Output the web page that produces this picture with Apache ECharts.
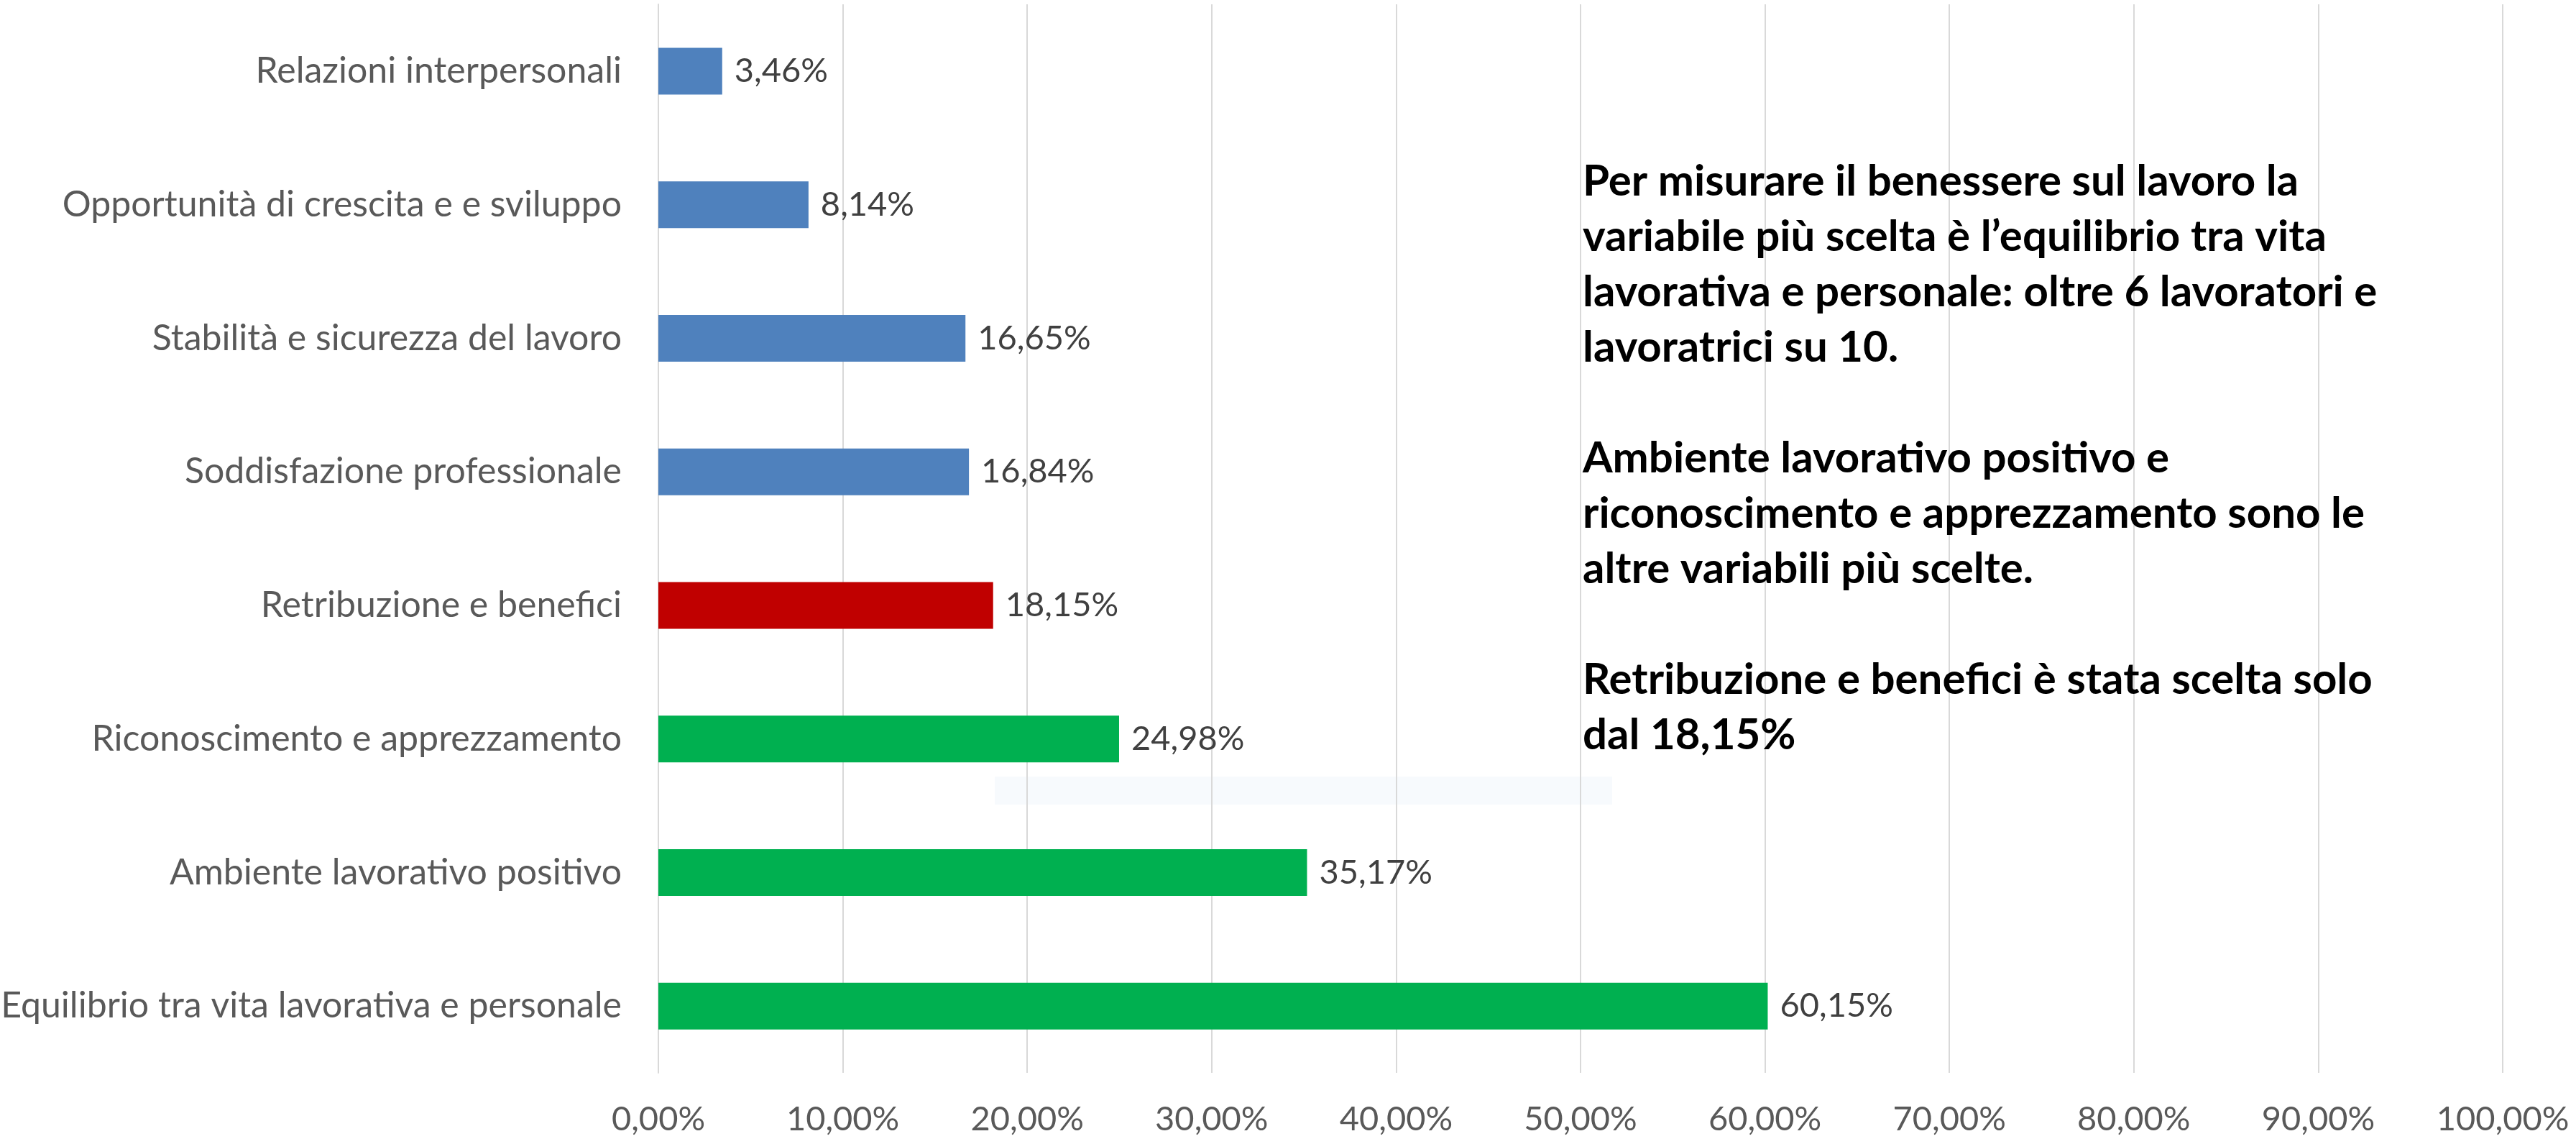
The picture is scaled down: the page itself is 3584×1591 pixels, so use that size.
<!DOCTYPE html>
<html>
<head>
<meta charset="utf-8">
<title>Benessere sul lavoro</title>
<script src="https://cdn.jsdelivr.net/npm/echarts@6/dist/echarts.min.js"></script>
<style>
  html, body { margin: 0; padding: 0; background: #fff; }
  #barchart { width: 3584px; height: 1591px; }
</style>
</head>
<body>
<div id="barchart"></div>
<script>
// dati (dall'alto verso il basso)
const categories = [
  'Relazioni interpersonali',
  'Opportunità di crescita e e sviluppo',
  'Stabilità e sicurezza del lavoro',
  'Soddisfazione professionale',
  'Retribuzione e benefici',
  'Riconoscimento e apprezzamento',
  'Ambiente lavorativo positivo',
  'Equilibrio tra vita lavorativa e personale'
]
const values = [3.46, 8.14, 16.65, 16.84, 18.15, 24.98, 35.17, 60.15]
const barColors = ['#4F81BD', '#4F81BD', '#4F81BD', '#4F81BD', '#C00000', '#00B050', '#00B050', '#00B050']
const tickValues = [0, 10, 20, 30, 40, 50, 60, 70, 80, 90, 100]

const note = [
  'Per misurare il benessere sul lavoro la',
  'variabile più scelta è l’equilibrio tra vita',
  'lavorativa e personale: oltre 6 lavoratori e',
  'lavoratrici su 10.',
  '',
  'Ambiente lavorativo positivo e',
  'riconoscimento e apprezzamento sono le',
  'altre variabili più scelte.',
  '',
  'Retribuzione e benefici è stata scelta solo',
  'dal 18,15%'
]

const pct = v => v.toFixed(2).replace('.', ',') + '%'
const font = 'Lato, "Open Sans", sans-serif'

const chart = echarts.init(document.getElementById('barchart'))
chart.setOption({
  backgroundColor: '#ffffff',
  animation: false,
  grid: {
    left: 916,
    right: 102,
    top: 6,
    bottom: 99,
    containLabel: false,
    outerBoundsMode: 'none'
  },
  xAxis: {
    type: 'value',
    min: tickValues[0],
    max: tickValues[tickValues.length - 1],
    interval: 10,
    axisLine: { show: false },
    axisTick: { show: false },
    splitLine: { lineStyle: { color: '#D9D9D9', width: 2 } },
    axisLabel: {
      margin: 41,
      fontSize: 47,
      fontFamily: font,
      color: '#595959',
      formatter: v => pct(v)
    }
  },
  yAxis: {
    type: 'category',
    inverse: true,
    data: categories,
    axisLine: { show: true, lineStyle: { color: '#D9D9D9', width: 2 } },
    axisTick: { show: false },
    axisLabel: {
      margin: 51,
      fontSize: 50,
      fontFamily: font,
      color: '#595959'
    }
  },
  graphic: [
    {
      type: 'rect',
      shape: { x: 1384, y: 1080, width: 859, height: 39 },
      style: { fill: '#F7FAFD' },
      z: 0
    },
    {
      type: 'text',
      left: 2202,
      top: 214,
      z: 10,
      style: {
        text: note.join('\n'),
        fontSize: 60,
        fontWeight: 'bold',
        fontFamily: font,
        fill: '#000000',
        lineHeight: 77
      }
    }
  ],
  series: [
    {
      type: 'bar',
      barWidth: 65,
      data: values.map((v, i) => ({ value: v, itemStyle: { color: barColors[i] } })),
      label: {
        show: true,
        position: 'right',
        distance: 17,
        fontSize: 47,
        fontFamily: font,
        color: '#404040',
        formatter: p => pct(p.value)
      },
      z: 5
    }
  ]
})
</script>
</body>
</html>
